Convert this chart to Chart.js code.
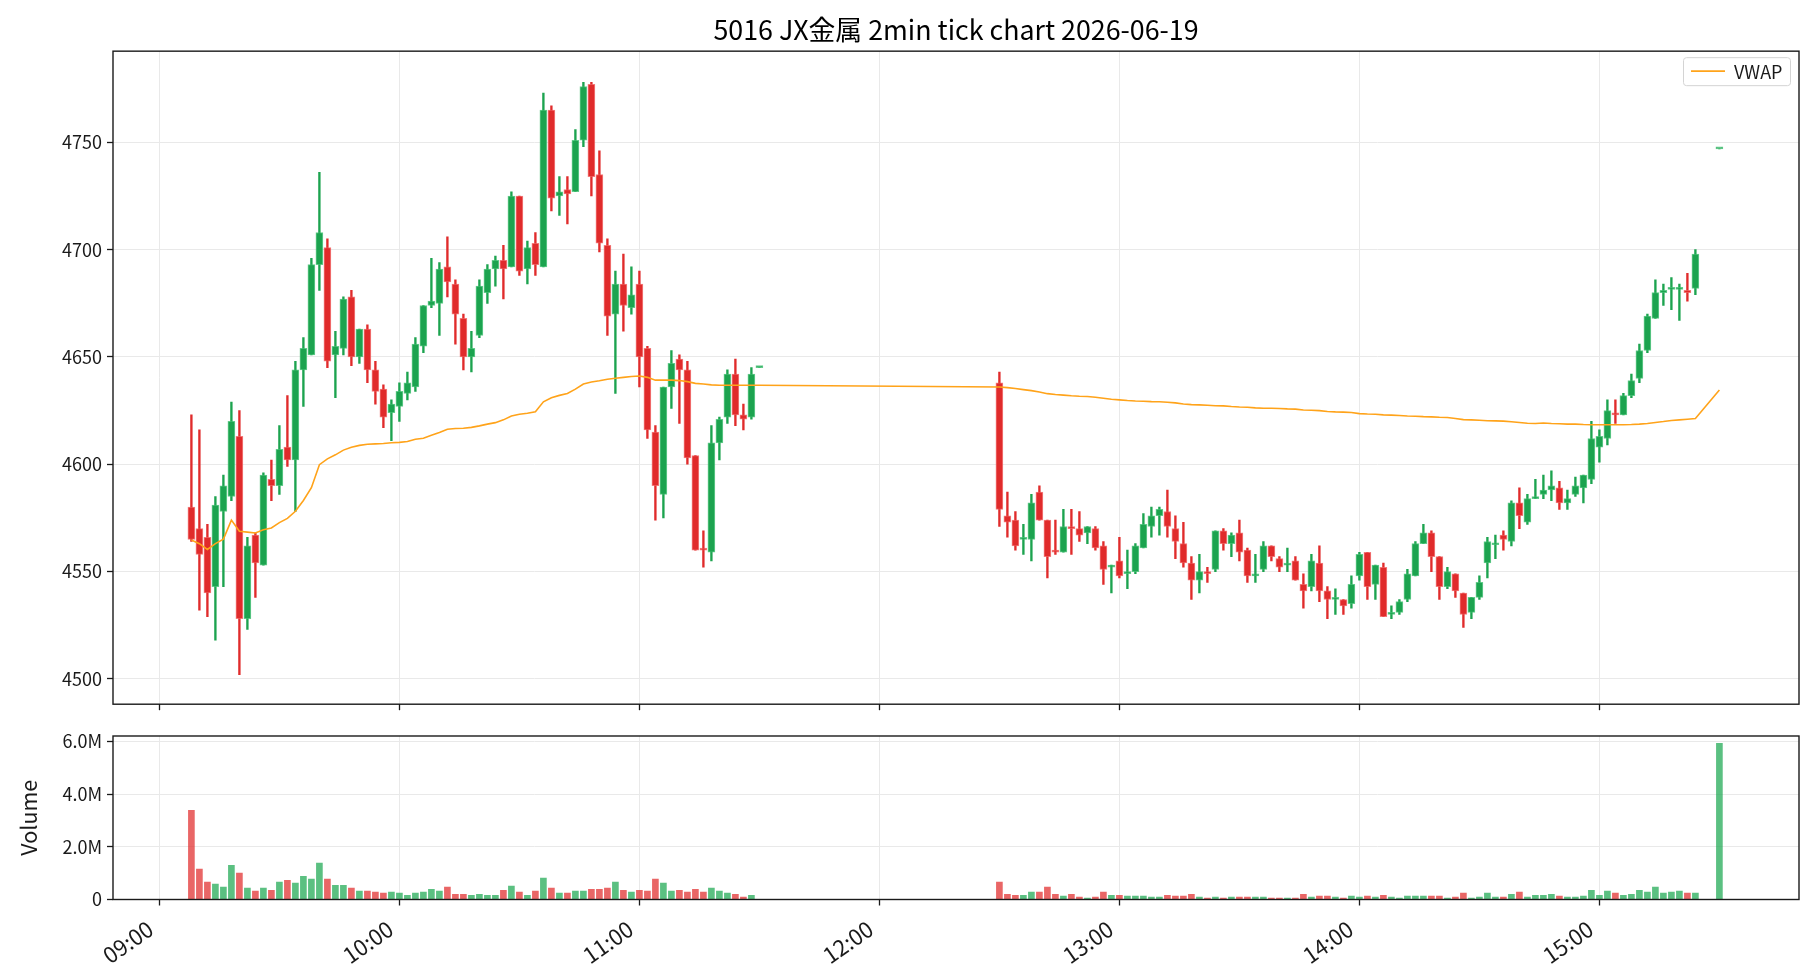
<!DOCTYPE html>
<html lang="ja">
<head>
<meta charset="utf-8">
<title>5016 JX金属 2min tick chart</title>
<script src="https://cdn.jsdelivr.net/npm/chart.js@4.4.1/dist/chart.umd.min.js"></script>
<style>
  html, body { margin: 0; background: #fff; }
  #wrap { position: relative; width: 1820px; height: 980px; }
  #priceChart { position: absolute; left: 0; top: 0; }
  #volumeChart { position: absolute; left: 0; top: 720px; }
</style>
</head>
<body>
<div id="wrap">
  <canvas id="priceChart" width="1820" height="720"></canvas>
  <canvas id="volumeChart" width="1820" height="260"></canvas>
</div>
<script>
const chartTitle = "5016 JX金属 2min tick chart 2026-06-19";

const times = [
  "09:08","09:10","09:12","09:14","09:16","09:18","09:20","09:22","09:24","09:26",
  "09:28","09:30","09:32","09:34","09:36","09:38","09:40","09:42","09:44","09:46",
  "09:48","09:50","09:52","09:54","09:56","09:58","10:00","10:02","10:04","10:06",
  "10:08","10:10","10:12","10:14","10:16","10:18","10:20","10:22","10:24","10:26",
  "10:28","10:30","10:32","10:34","10:36","10:38","10:40","10:42","10:44","10:46",
  "10:48","10:50","10:52","10:54","10:56","10:58","11:00","11:02","11:04","11:06",
  "11:08","11:10","11:12","11:14","11:16","11:18","11:20","11:22","11:24","11:26",
  "11:28","11:30",
  "12:30","12:32","12:34","12:36","12:38","12:40","12:42","12:44","12:46","12:48",
  "12:50","12:52","12:54","12:56","12:58","13:00","13:02","13:04","13:06","13:08",
  "13:10","13:12","13:14","13:16","13:18","13:20","13:22","13:24","13:26","13:28",
  "13:30","13:32","13:34","13:36","13:38","13:40","13:42","13:44","13:46","13:48",
  "13:50","13:52","13:54","13:56","13:58","14:00","14:02","14:04","14:06","14:08",
  "14:10","14:12","14:14","14:16","14:18","14:20","14:22","14:24","14:26","14:28",
  "14:30","14:32","14:34","14:36","14:38","14:40","14:42","14:44","14:46","14:48",
  "14:50","14:52","14:54","14:56","14:58","15:00","15:02","15:04","15:06","15:08",
  "15:10","15:12","15:14","15:16","15:18","15:20","15:22","15:24","15:30"
];

const opens = [
  4580,4570,4566,4543,4578,4585,4613,4528,4567,4553, 4593,4590,4608,4602,4644,4651,4693,4701,4651,4654,
  4678,4650,4663,4644,4635,4624,4627,4633,4636,4655, 4674,4675,4692,4684,4668,4650,4660,4680,4691,4695,
  4692,4725,4691,4703,4692,4765,4725,4728,4727,4751, 4777,4735,4702,4670,4684,4673,4684,4654,4615,4586,
  4636,4649,4644,4604,4561,4559,4610,4622,4642,4623, 4622,4645,
  4638,4576,4574,4565,4565,4587,4574,4560,4559,4571, 4570,4568,4570,4562,4552,4555,4549,4550,4561,4571,
  4576,4578,4570,4563,4554,4546,4550,4551,4569,4563, 4568,4560,4548,4551,4562,4556,4553,4555,4544,4543,
  4554,4541,4537,4537,4535,4548,4559,4544,4552,4530, 4531,4537,4548,4563,4568,4557,4543,4549,4540,4531,
  4538,4554,4562.5,4567,4564,4582,4573,4584,4586,4588, 4589,4582,4586,4589,4593,4608,4612,4624,4623,4632,
  4640,4653,4668,4680,4681.5,4681.5,4681,4682,4747
];
const highs = [
  4623,4616,4572,4585,4595,4629,4625,4566,4568,4596, 4602,4618,4632,4648,4659,4696,4736,4705,4662,4678,
  4681,4663,4665,4648,4637,4630,4638,4643,4659,4674, 4696,4694,4706,4686,4670,4662,4686,4693,4697,4702,
  4727,4725,4704,4708,4773,4767,4734,4734,4756,4778, 4778,4746,4705,4690,4698,4692,4690,4655,4618,4636,
  4653,4651,4648,4604,4569,4618,4622,4644,4649,4628, 4645,4645,
  4643,4587,4578,4572,4586,4590,4574,4574,4579,4579, 4578,4571,4571,4564,4553,4566,4560,4563,4577,4580,
  4580,4588,4576,4573,4557,4558,4552,4569,4570,4568, 4574,4561,4558,4564,4562,4557,4561,4557,4549,4558,
  4562,4543,4542,4537,4548,4559,4559,4553,4554,4534, 4537,4551,4564,4572,4569,4557,4552,4549,4540,4538,
  4548,4566,4567,4569,4583,4589,4586,4593,4595,4597, 4592,4588,4594,4595,4620,4616,4630,4630,4633,4642,
  4656,4670,4686,4684,4687,4684,4689,4700,4747
];
const lows = [
  4564,4532,4529,4518,4543,4583,4502,4523,4538,4553, 4583,4586,4599,4578,4627,4651,4681,4645,4631,4651,
  4646,4647,4638,4628,4617,4611,4620,4630,4634,4652, 4673,4660,4678,4656,4644,4643,4659,4675,4683,4677,
  4692,4688,4684,4688,4692,4718,4716,4712,4727,4748, 4725,4699,4660,4633,4662,4670,4636,4612,4574,4575,
  4626,4619,4600,4560,4552,4555,4602,4619,4618,4616, 4621,4645,
  4571,4566,4560,4558,4555,4574,4547,4558,4559,4558, 4564,4563,4560,4544,4540,4547,4542,4549,4561,4566,
  4567,4566,4556,4552,4537,4540,4545,4550,4560,4557, 4555,4545,4545,4550,4555,4550,4550,4546,4533,4541,
  4536,4528,4530,4530,4533,4546,4537,4537,4529,4528, 4530,4536,4548,4563,4550,4537,4542,4538,4524,4528,
  4537,4547,4556,4560,4562,4570,4572,4584,4584,4583, 4579,4579,4585,4582,4591,4601,4609,4619,4623,4631,
  4638,4652,4668,4674,4672,4667,4676,4679,4747
];
const closes = [
  4565,4558,4540,4581,4590,4620,4528,4562,4554,4595, 4590,4607,4602,4644,4654,4693,4708,4648,4655,4677,
  4650,4663,4644,4634,4622,4628,4634,4638,4656,4674, 4676,4691,4685,4670,4650,4654,4683,4691,4695,4691,
  4725,4690,4701,4693,4765,4724,4727,4726,4751,4776, 4734,4703,4669,4684,4674,4679,4650,4616,4590,4636,
  4647,4644,4603,4560,4560,4610,4621,4642,4623,4621, 4642,4645,
  4579,4573,4562,4566,4582,4574,4557,4559,4571,4570, 4567,4571,4561,4551,4553,4548,4550,4562,4572,4576,
  4579,4571,4564,4554,4546,4550,4549,4569,4563,4567, 4559,4548,4549,4562,4557,4552,4554,4546,4541,4555,
  4541,4537,4538,4534,4544,4558,4543,4553,4529,4531, 4536,4549,4563,4568,4557,4543,4550,4541,4530,4538,
  4545,4564,4563,4565,4582,4576,4584,4585,4588,4590, 4582,4584,4590,4595,4612,4613,4625,4623,4632,4639,
  4653,4669,4680,4681,4682,4682,4680,4698,4747
];

// volume in millions of shares
const volumes = [
  3.38,1.15,0.66,0.58,0.47,1.30,1.00,0.43,0.32,0.43, 0.35,0.66,0.73,0.62,0.88,0.77,1.38,0.77,0.54,0.54,
  0.43,0.32,0.32,0.28,0.24,0.28,0.24,0.16,0.24,0.28, 0.39,0.32,0.47,0.20,0.20,0.16,0.20,0.16,0.16,0.35,
  0.51,0.28,0.16,0.32,0.81,0.43,0.24,0.24,0.32,0.32, 0.39,0.39,0.43,0.66,0.35,0.28,0.35,0.32,0.77,0.62,
  0.32,0.35,0.28,0.39,0.28,0.43,0.32,0.24,0.20,0.09, 0.16,0,
  0.66,0.20,0.16,0.16,0.28,0.28,0.47,0.20,0.13,0.20, 0.09,0.05,0.09,0.28,0.16,0.16,0.13,0.13,0.13,0.09,
  0.09,0.16,0.13,0.13,0.20,0.09,0.05,0.09,0.05,0.09, 0.09,0.09,0.09,0.09,0.05,0.05,0.05,0.05,0.20,0.09,
  0.13,0.13,0.09,0.05,0.13,0.09,0.13,0.09,0.16,0.09, 0.05,0.13,0.13,0.13,0.13,0.13,0.05,0.09,0.24,0.05,
  0.09,0.24,0.09,0.09,0.20,0.28,0.09,0.16,0.16,0.20, 0.13,0.09,0.09,0.13,0.35,0.16,0.32,0.24,0.16,0.20,
  0.35,0.28,0.47,0.24,0.28,0.32,0.24,0.24,5.92
];

const vwap = [
  4564.7,4563.0,4560.3,4563.0,4565.1,4574.0,4568.8,4568.4,4568.0,4569.5,
  4570.3,4572.8,4574.8,4578.1,4583.1,4589.1,4599.8,4602.5,4604.4,4606.6,
  4607.9,4608.8,4609.3,4609.5,4609.7,4610.0,4610.2,4610.6,4611.7,4612.1,
  4613.5,4614.8,4616.3,4616.7,4616.8,4617.2,4617.9,4618.7,4619.4,4620.7,
  4622.5,4623.3,4623.8,4624.5,4629.1,4631.0,4632.1,4633.0,4635.0,4637.4,
  4638.3,4638.9,4639.6,4640.1,4640.5,4640.9,4641.1,4640.5,4639.2,4639.2,
  4639.2,4639.0,4638.5,4637.7,4637.4,4637.0,4636.8,4636.8,4636.8,4636.8,
  4636.8,4636.8,
  4636.0,4635.7,4635.3,4634.8,4634.3,4633.7,4632.9,4632.5,4632.2,4631.9,
  4631.7,4631.6,4631.2,4630.8,4630.3,4630.0,4629.7,4629.5,4629.4,4629.2,
  4629.1,4628.9,4628.6,4628.1,4627.8,4627.7,4627.5,4627.3,4627.2,4626.9,
  4626.7,4626.6,4626.3,4626.1,4626.1,4626.0,4625.8,4625.7,4625.3,4625.2,
  4625.0,4624.6,4624.4,4624.3,4624.1,4623.6,4623.4,4623.3,4623.0,4622.9,
  4622.7,4622.5,4622.4,4622.2,4622.1,4621.9,4621.8,4621.3,4620.8,4620.7,
  4620.5,4620.3,4620.2,4620.1,4619.8,4619.5,4619.1,4619.0,4619.2,4619.0,
  4618.9,4618.7,4618.7,4618.5,4618.4,4618.4,4618.4,4618.4,4618.4,4618.5,
  4618.7,4619.0,4619.5,4619.9,4620.4,4620.7,4621.0,4621.3,4634.6
];

const hourTicks = ["09:00", "10:00", "11:00", "12:00", "13:00", "14:00", "15:00"];
const priceTicks = [4500, 4550, 4600, 4650, 4700, 4750];
const volumeTicks = [0, 2, 4, 6]; // millions

const FONT = '"Noto Sans CJK JP", "Noto Sans", sans-serif';
const INK = "#1a1a1a";
const GRID = "#e9e9e9";
const UP = "#1ca34f";
const DOWN = "#e02b2b";
const UP_EDGE = "rgba(60,190,110,0.8)";
const DOWN_EDGE = "rgba(240,90,90,0.8)";
const UP_VOL = "rgba(28,168,80,0.72)";
const DOWN_VOL = "rgba(224,43,43,0.72)";

const toMin = (t) => {
  const [h, m] = t.split(":").map(Number);
  return (h - 9) * 60 + m;
};
const fmtTime = (v) => {
  const h = 9 + Math.floor(v / 60);
  const m = v % 60;
  return String(h).padStart(2, "0") + ":" + String(m).padStart(2, "0");
};

const xs = times.map(toMin);
const isUp = closes.map((c, i) => c >= opens[i]);
const hourValues = hourTicks.map(toMin);

const X_MIN = -11.6;
const X_MAX = 409.9;
const AXIS_W = 113;
const RIGHT_PAD = 21;

// box around the plot area, like matplotlib spines
const frame = {
  id: "frame",
  afterDraw(chart) {
    const { ctx, chartArea: a } = chart;
    ctx.save();
    ctx.strokeStyle = INK;
    ctx.lineWidth = 1.4;
    ctx.strokeRect(a.left, a.top, a.right - a.left, a.bottom - a.top);
    ctx.restore();
  },
};

// legend box drawn inside the upper right corner of the price panel
const vwapLegend = {
  id: "vwapLegend",
  afterDraw(chart) {
    const ds = chart.data.datasets[0];
    const { ctx, chartArea: a } = chart;
    const w = 107, h = 28;
    const x = a.right - 9 - w;
    const y = a.top + 6;
    ctx.save();
    ctx.fillStyle = "rgba(255,255,255,0.85)";
    ctx.strokeStyle = "#d4d4d4";
    ctx.lineWidth = 1;
    ctx.beginPath();
    ctx.roundRect(x + 0.5, y + 0.5, w, h, 3);
    ctx.fill();
    ctx.stroke();
    ctx.strokeStyle = ds.borderColor;
    ctx.lineWidth = ds.borderWidth;
    ctx.beginPath();
    ctx.moveTo(x + 8, y + h / 2);
    ctx.lineTo(x + 42, y + h / 2);
    ctx.stroke();
    ctx.fillStyle = INK;
    ctx.font = `18px ${FONT}`;
    ctx.textBaseline = "middle";
    ctx.fillText(ds.label, x + 51, y + h / 2 + 1);
    ctx.restore();
  },
};

function timeAxis(showLabels, height) {
  return {
    type: "linear",
    min: X_MIN,
    max: X_MAX,
    offset: false,
    border: { display: false },
    grid: { color: GRID, lineWidth: 1, tickColor: INK, tickLength: 6, tickWidth: 1.3, offset: false },
    afterBuildTicks: (scale) => {
      scale.ticks = hourValues.map((v) => ({ value: v }));
    },
    ticks: {
      display: showLabels,
      autoSkip: false,
      minRotation: 35,
      maxRotation: 35,
      padding: 10,
      labelOffset: -9,
      color: INK,
      font: { family: FONT, size: 22 },
      callback: (v) => fmtTime(v),
    },
    afterFit: (scale) => {
      scale.height = height;
    },
  };
}

new Chart(document.getElementById("priceChart"), {
  type: "bar",
  data: {
    datasets: [
      {
        type: "line",
        label: "VWAP",
        data: xs.map((x, i) => ({ x, y: vwap[i] })),
        borderColor: "#ffa31a",
        borderWidth: 1.6,
        pointRadius: 0,
        tension: 0,
      },
      {
        label: "body",
        data: xs.map((x, i) => ({ x, y: [Math.min(opens[i], closes[i]), Math.max(opens[i], closes[i])] })),
        backgroundColor: isUp.map((u) => (u ? UP : DOWN)),
        borderColor: isUp.map((u) => (u ? UP_EDGE : DOWN_EDGE)),
        borderWidth: 1,
        borderSkipped: false,
        barThickness: 7,
        minBarLength: 2,
        grouped: false,
      },
      {
        label: "wick",
        data: xs.map((x, i) => ({ x, y: [lows[i], highs[i]] })),
        backgroundColor: isUp.map((u) => (u ? UP : DOWN)),
        borderWidth: 0,
        barThickness: 1.7,
        grouped: false,
      },
    ],
  },
  options: {
    responsive: false,
    devicePixelRatio: 1,
    animation: false,
    layout: { padding: { left: 0, right: RIGHT_PAD, top: 0, bottom: 0 } },
    plugins: {
      legend: { display: false },
      tooltip: { enabled: false },
      title: {
        display: true,
        fullSize: false,
        text: chartTitle,
        color: "#000",
        font: { family: FONT, size: 26.8, weight: "normal" },
        padding: { top: 14, bottom: 5 },
      },
    },
    scales: {
      x: timeAxis(false, 13),
      y: {
        min: 4488.2,
        max: 4792.5,
        border: { display: false },
        grid: { color: GRID, lineWidth: 1, tickColor: INK, tickLength: 6, tickWidth: 1.3 },
        afterBuildTicks: (scale) => {
          scale.ticks = priceTicks.map((v) => ({ value: v }));
        },
        ticks: {
          padding: 5,
          color: INK,
          font: { family: FONT, size: 18 },
          callback: (v) => String(v),
        },
        afterFit: (scale) => {
          scale.width = AXIS_W;
        },
      },
    },
  },
  plugins: [frame, vwapLegend],
});

new Chart(document.getElementById("volumeChart"), {
  type: "bar",
  data: {
    datasets: [
      {
        label: "Volume",
        data: xs.map((x, i) => ({ x, y: volumes[i] * 1e6 })),
        backgroundColor: isUp.map((u) => (u ? UP_VOL : DOWN_VOL)),
        borderWidth: 0,
        barThickness: 6,
        grouped: false,
      },
    ],
  },
  options: {
    responsive: false,
    devicePixelRatio: 1,
    animation: false,
    layout: { padding: { left: 0, right: RIGHT_PAD, top: 16, bottom: 0 } },
    plugins: {
      legend: { display: false },
      tooltip: { enabled: false },
    },
    scales: {
      x: timeAxis(true, 80.5),
      y: {
        min: 0,
        max: 6.2e6,
        border: { display: false },
        grid: { color: GRID, lineWidth: 1, tickColor: INK, tickLength: 6, tickWidth: 1.3 },
        title: {
          display: true,
          text: "Volume",
          color: INK,
          font: { family: FONT, size: 21.5 },
          padding: { top: 16, bottom: 0 },
        },
        afterBuildTicks: (scale) => {
          scale.ticks = volumeTicks.map((v) => ({ value: v * 1e6 }));
        },
        ticks: {
          padding: 5,
          color: INK,
          font: { family: FONT, size: 18 },
          callback: (v) => (v === 0 ? "0" : (v / 1e6).toFixed(1) + "M"),
        },
        afterFit: (scale) => {
          scale.width = AXIS_W;
        },
      },
    },
  },
  plugins: [frame],
});
</script>
</body>
</html>
